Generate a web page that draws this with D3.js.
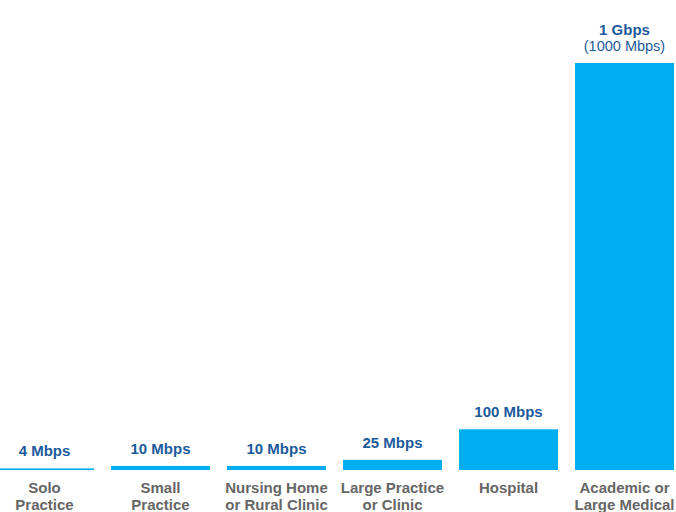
<!DOCTYPE html>
<html lang="en">
<head>
  <meta charset="UTF-8">
  <title>Bandwidth by Facility</title>
  <script src="https://d3js.org/d3.v7.min.js"></script>
  <style>
    body { margin: 0; background: #ffffff; font-family: 'Liberation Sans', Arial, sans-serif; }
    svg { display: block; }
    .value { fill: #1d5a9b; font-weight: bold; font-size: 15px; }
    .value-sub { fill: #1d5a9b; font-size: 14.5px; }
    .cat { fill: #666666; font-weight: bold; font-size: 15px; }
  </style>
</head>
<body>
  <svg width="676" height="512"></svg>
  <script>
    // data
    const categories = [
      ["Solo", "Practice"],
      ["Small", "Practice"],
      ["Nursing Home", "or Rural Clinic"],
      ["Large Practice", "or Clinic"],
      ["Hospital"],
      ["Academic or", "Large Medical"]
    ];
    const speeds = [4, 10, 10, 25, 100, 1000];
    const valueLabels = [["4 Mbps"], ["10 Mbps"], ["10 Mbps"], ["25 Mbps"], ["100 Mbps"], ["1 Gbps", "(1000 Mbps)"]];

    const width = 676, height = 512;
    const baseline = 470;
    const svg = d3.select("svg");

    const keys = categories.map((c, i) => i);
    const x = d3.scaleBand().domain(keys).range([-22, 691]).padding(0.1466);
    const y = d3.scaleLinear().domain([0, 1000]).range([baseline, 63]);

    svg.selectAll("rect.bar")
      .data(speeds)
      .enter()
      .append("rect")
      .attr("class", "bar")
      .attr("x", (d, i) => x(i))
      .attr("width", x.bandwidth())
      .attr("y", d => y(d))
      .attr("height", d => baseline - y(d))
      .attr("fill", "#00aeef");

    // value labels above bars
    const vl = svg.selectAll("g.vlabel")
      .data(speeds)
      .enter()
      .append("g")
      .attr("class", "vlabel")
      .attr("transform", (d, i) => `translate(${x(i) + x.bandwidth() / 2},${y(d) - 12})`);

    vl.each(function (d, i) {
      const lines = valueLabels[i];
      const g = d3.select(this);
      lines.forEach((t, j) => {
        g.append("text")
          .attr("class", j === 0 ? "value" : "value-sub")
          .attr("text-anchor", "middle")
          .attr("y", -(lines.length - 1 - j) * 16)
          .text(t);
      });
    });

    // category labels
    const cl = svg.selectAll("text.cat")
      .data(categories)
      .enter()
      .append("text")
      .attr("class", "cat")
      .attr("text-anchor", "middle")
      .attr("x", (d, i) => x(i) + x.bandwidth() / 2)
      .attr("y", 493);

    cl.selectAll("tspan")
      .data(d => d)
      .enter()
      .append("tspan")
      .attr("x", function () { return d3.select(this.parentNode).attr("x"); })
      .attr("dy", (d, j) => j === 0 ? 0 : 17)
      .text(d => d);
  </script>
</body>
</html>
